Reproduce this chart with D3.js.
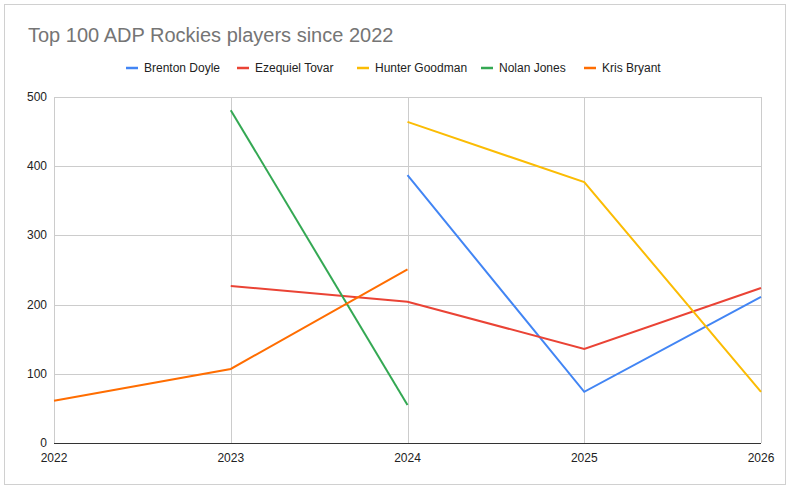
<!DOCTYPE html>
<html><head><meta charset="utf-8">
<script src="https://cdn.jsdelivr.net/npm/d3@7"></script>
<style>body{margin:0;background:#fff;font-family:Arial,"Liberation Sans",sans-serif}</style>
</head><body><div id="chart"></div>
<script>
var years = [2022, 2023, 2024, 2025, 2026];
var y_ticks = [0, 100, 200, 300, 400, 500];
var series_names = ["Brenton Doyle", "Ezequiel Tovar", "Hunter Goodman", "Nolan Jones", "Kris Bryant"];
var series_colors = ["#4285f4", "#ea4335", "#fbbc04", "#34a853", "#ff6d01"];
var doyle = [null, null, 387, 74, 211];
var tovar = [null, 227, 204, 136, 224];
var goodman = [null, null, 464, 377, 74];
var jones = [null, 481, 55, null, null];
var bryant = [61, 107, 251, null, null];
var all_series = [doyle, tovar, goodman, jones, bryant];

var width = 791, height = 490;
var padding = { "left": 54, "right": 30, "top": 97, "bottom": 47 };

var svg = d3.select("#chart").append("svg")
    .attr("width", width).attr("height", height);

svg.append("rect").attr("x", 4.5).attr("y", 4.5).attr("width", 781).attr("height", 480)
    .attr("fill", "none").attr("stroke", "#d0d0d0");

var x_scale = d3.scaleLinear().domain([2022, 2026]).range([padding.left, width - padding.right]);
var y_scale = d3.scaleLinear().domain([0, 500]).range([height - padding.bottom, padding.top]);

svg.selectAll(".hgrid").data(y_ticks).enter().append("line")
    .attr("x1", padding.left).attr("x2", width - padding.right)
    .attr("y1", function (d) { return Math.round(y_scale(d)) + 0.5; })
    .attr("y2", function (d) { return Math.round(y_scale(d)) + 0.5; })
    .attr("stroke", function (d) { return d == 0 ? "#333" : "#ccc"; });
svg.selectAll(".vgrid").data(years).enter().append("line")
    .attr("y1", padding.top).attr("y2", height - padding.bottom)
    .attr("x1", function (d) { return Math.round(x_scale(d)) + 0.5; })
    .attr("x2", function (d) { return Math.round(x_scale(d)) + 0.5; })
    .attr("stroke", "#ccc");

svg.selectAll(".ylab").data(y_ticks).enter().append("text")
    .attr("x", padding.left - 7).attr("y", function (d) { return y_scale(d) + 4; })
    .attr("text-anchor", "end").attr("font-size", 12).attr("fill", "#222")
    .text(function (d) { return d; });
svg.selectAll(".xlab").data(years).enter().append("text")
    .attr("x", function (d) { return x_scale(d); }).attr("y", height - padding.bottom + 19)
    .attr("text-anchor", "middle").attr("font-size", 12).attr("fill", "#222")
    .text(function (d) { return d; });

var line = d3.line()
    .defined(function (d) { return d != null; })
    .x(function (d, i) { return x_scale(years[i]); })
    .y(function (d) { return y_scale(d); });
all_series.forEach(function (s, i) {
    svg.append("path").attr("d", line(s)).attr("fill", "none")
        .attr("stroke", series_colors[i]).attr("stroke-width", 2);
});

svg.append("text").attr("x", 28).attr("y", 42).attr("font-size", 20).attr("fill", "#757575")
    .text("Top 100 ADP Rockies players since 2022");

var legend_x = [126, 237, 357, 481, 584];
series_names.forEach(function (n, i) {
    var g = svg.append("g").attr("transform", "translate(" + legend_x[i] + ",68)");
    g.append("line").attr("x1", 0).attr("x2", 12).attr("stroke", series_colors[i]).attr("stroke-width", 2.5);
    g.append("text").attr("x", 18).attr("y", 4).attr("font-size", 12).attr("fill", "#222").text(n);
});
</script></body></html>
